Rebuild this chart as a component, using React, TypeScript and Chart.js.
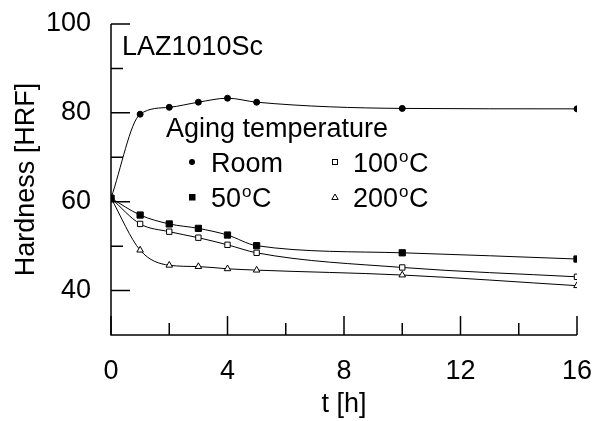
import React, { useEffect, useRef } from "react";
import { Chart, registerables } from "chart.js";

Chart.register(...registerables);

const HOURS = [0, 1, 2, 3, 4, 5, 10, 16];
const ROOM = [60.8, 79.7, 81.25, 82.4, 83.3, 82.4, 81.0, 80.9];
const C50 = [60.8, 57.0, 55.0, 54.0, 52.5, 50.1, 48.5, 47.1];
const C100 = [60.8, 55.0, 53.25, 51.9, 50.3, 48.5, 45.2, 43.1];
const C200 = [60.8, 49.1, 45.7, 45.4, 44.9, 44.6, 43.5, 41.1];

const X_TICKS = [0, 4, 8, 12, 16];
const X_MINOR = [2, 6, 10, 14];
const Y_TICKS = [40, 60, 80, 100];
const Y_MINOR = [50, 70, 90];

const FONT = "'Liberation Sans', Arial, sans-serif";
const FS = 27;

const pts = (ys: number[]) => HOURS.map((h, i) => ({ x: h, y: ys[i] }));

function drawDeg(ctx: CanvasRenderingContext2D, x: number, y: number, num: string) {
  ctx.font = `${FS}px ${FONT}`;
  ctx.fillText(num, x, y);
  let cx = x + ctx.measureText(num).width + 1;
  ctx.font = `17px ${FONT}`;
  ctx.fillText("o", cx, y - 10);
  cx += ctx.measureText("o").width + 0.5;
  ctx.font = `${FS}px ${FONT}`;
  ctx.fillText("C", cx, y);
}

const zeroPad = (s: any) => {
  s.paddingTop = 0;
  s.paddingBottom = 0;
  s.paddingLeft = 0;
  s.paddingRight = 0;
};

const axesPlugin = {
  id: "axesPlugin",
  afterDatasetsDraw(chart: any) {
    const { ctx, chartArea, scales } = chart;
    const { left, right, bottom } = chartArea;
    const xs = scales.x;
    const ys = scales.y;
    ctx.save();
    ctx.strokeStyle = "#000";
    ctx.lineWidth = 1.5;
    ctx.beginPath();
    ctx.moveTo(left, ys.getPixelForValue(100));
    ctx.lineTo(left, bottom);
    ctx.lineTo(right, bottom);
    ctx.stroke();
    ctx.beginPath();
    Y_TICKS.forEach((v) => {
      const p = ys.getPixelForValue(v);
      ctx.moveTo(left, p);
      ctx.lineTo(left + 19, p);
    });
    Y_MINOR.forEach((v) => {
      const p = ys.getPixelForValue(v);
      ctx.moveTo(left, p);
      ctx.lineTo(left + 12, p);
    });
    X_TICKS.forEach((v) => {
      const p = xs.getPixelForValue(v);
      ctx.moveTo(p, bottom);
      ctx.lineTo(p, bottom - 19);
    });
    X_MINOR.forEach((v) => {
      const p = xs.getPixelForValue(v);
      ctx.moveTo(p, bottom);
      ctx.lineTo(p, bottom - 12);
    });
    ctx.stroke();

    // annotations / legend
    ctx.fillStyle = "#000";
    ctx.textBaseline = "alphabetic";
    ctx.textAlign = "left";
    ctx.font = `${FS}px ${FONT}`;
    ctx.fillText("LAZ1010Sc", 122, 55);
    ctx.fillText("Aging temperature", 166, 137);

    // Room
    ctx.beginPath();
    ctx.arc(192, 162, 3, 0, Math.PI * 2);
    ctx.fill();
    ctx.font = `${FS}px ${FONT}`;
    ctx.fillText("Room", 211, 172);
    // 50 C
    ctx.fillRect(189, 194, 6.5, 6.5);
    drawDeg(ctx, 211, 207, "50");
    // 100 C
    ctx.lineWidth = 1;
    ctx.strokeRect(332.5, 159.5, 5, 5);
    drawDeg(ctx, 353, 172, "100");
    // 200 C
    ctx.beginPath();
    ctx.moveTo(335, 194);
    ctx.lineTo(338.2, 199.5);
    ctx.lineTo(331.8, 199.5);
    ctx.closePath();
    ctx.stroke();
    drawDeg(ctx, 353, 207, "200");
    ctx.restore();
  },
};

export default function App() {
  const ref = useRef<HTMLCanvasElement | null>(null);
  useEffect(() => {
    document.body.style.margin = "0";
    const canvas = ref.current!;
    const common = {
      borderColor: "#000",
      borderWidth: 1,
      cubicInterpolationMode: "monotone" as const,
      pointBorderColor: "#000",
      pointBorderWidth: 1,
    };
    const chart = new Chart(canvas, {
      type: "line",
      data: {
        datasets: [
          { ...common, label: "50°C", data: pts(C50), pointStyle: "rect", pointRadius: 4.4, pointBackgroundColor: "#000" },
          { ...common, label: "Room", data: pts(ROOM), pointStyle: "circle", pointRadius: 3, pointBackgroundColor: "#000" },
          { ...common, label: "100°C", data: pts(C100), pointStyle: "rect", pointRadius: 3.8, pointBackgroundColor: "#fff" },
          { ...common, label: "200°C", data: pts(C200), pointStyle: "triangle", pointRadius: 3.8, pointBackgroundColor: "#fff" },
        ],
      },
      options: {
        animation: false,
        responsive: false,
        devicePixelRatio: 1,
        layout: { padding: { left: 0, top: 24, right: 25, bottom: 0 } },
        plugins: { legend: { display: false }, tooltip: { enabled: false } },
        scales: {
          x: {
            type: "linear",
            min: 0,
            max: 16,
            afterBuildTicks: (s: any) => {
              s.ticks = X_TICKS.map((v) => ({ value: v }));
            },
            afterFit: (s: any) => {
              s.height = 86;
              zeroPad(s);
            },
            grid: { display: false, drawTicks: false },
            border: { display: false },
            ticks: { color: "#000", font: { family: FONT, size: FS }, padding: 20, maxRotation: 0 },
            title: { display: true, text: "t [h]", color: "#000", font: { family: FONT, size: FS }, padding: { top: 0, bottom: 0 } },
          },
          y: {
            type: "linear",
            min: 30,
            max: 100,
            afterBuildTicks: (s: any) => {
              s.ticks = Y_TICKS.map((v) => ({ value: v }));
            },
            afterFit: (s: any) => {
              s.width = 111;
              zeroPad(s);
            },
            grid: { display: false, drawTicks: false },
            border: { display: false },
            ticks: { color: "#000", font: { family: FONT, size: FS }, padding: 20 },
            title: { display: true, text: "Hardness [HRF]", color: "#000", font: { family: FONT, size: FS }, padding: { top: 10, bottom: 0 } },
          },
        },
      },
      plugins: [axesPlugin],
    });
    return () => chart.destroy();
  }, []);
  return (
    <div style={{ position: "fixed", left: 0, top: 0, width: 602, height: 421, background: "#fff" }}>
      <canvas ref={ref} width={602} height={421} style={{ display: "block" }} />
    </div>
  );
}
